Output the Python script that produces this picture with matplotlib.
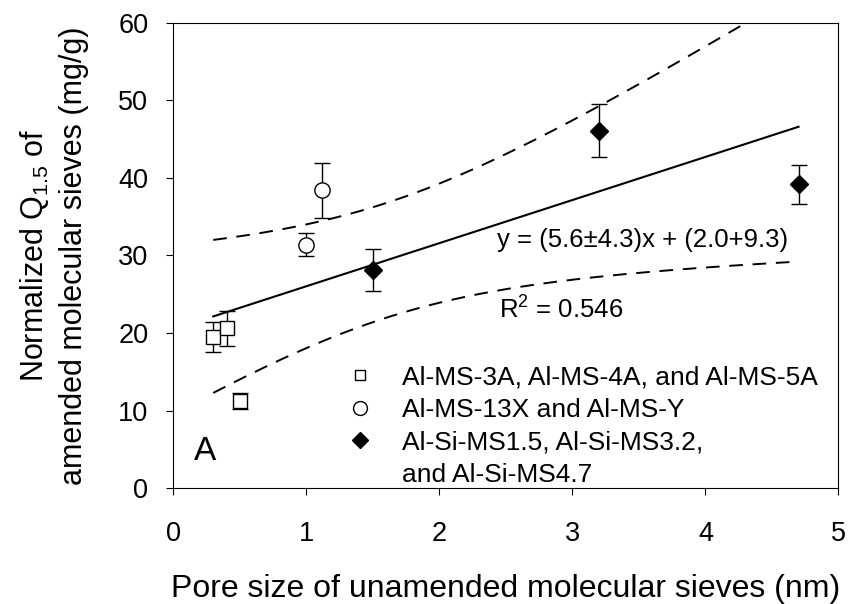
import matplotlib
matplotlib.use('Agg')
import matplotlib.pyplot as plt
from matplotlib.lines import Line2D
import numpy as np

plt.rcParams['font.family'] = ['Liberation Sans', 'DejaVu Sans']
plt.rcParams['mathtext.fontset'] = 'custom'
plt.rcParams['mathtext.rm'] = 'Liberation Sans'
plt.rcParams['mathtext.it'] = 'Liberation Sans'

# pore size (nm), normalized Q1.5 (mg/g) and standard errors
x_ms = [0.3, 0.4, 0.5]
y_ms = [19.5, 20.6, 11.2]
e_ms = [1.9, 2.3, 1.0]

x_xy = [1.0, 1.12]
y_xy = [31.4, 38.4]
e_xy = [1.5, 3.5]

x_si = [1.5, 3.2, 4.7]
y_si = [28.1, 46.1, 39.2]
e_si = [2.7, 3.4, 2.5]

# the last group's label wraps onto a second row without a marker
labels = ['Al-MS-3A, Al-MS-4A, and Al-MS-5A',
          'Al-MS-13X and Al-MS-Y',
          'Al-Si-MS1.5, Al-Si-MS3.2,',
          'and Al-Si-MS4.7']

fig = plt.figure(figsize=(8.56, 6.04), dpi=100)
ax = fig.add_axes([0.2025, 0.192, 0.777, 0.770])

# linear fit with 95% confidence band of the mean
xa = np.array(x_ms + x_xy + x_si)
ya = np.array(y_ms + y_xy + y_si)
n = len(xa)
slope, icpt = np.polyfit(xa, ya, 1)
sxx = np.sum((xa - xa.mean()) ** 2)
s = np.sqrt(np.sum((ya - (slope * xa + icpt)) ** 2) / (n - 2))
t95 = 2.447  # t(0.975, df=6)
xf = np.linspace(xa.min(), xa.max(), 200)
yf = slope * xf + icpt
half = t95 * s * np.sqrt(1.0 / n + (xf - xa.mean()) ** 2 / sxx)

ax.plot(xf, yf, color='black', lw=1.5)
ax.plot(xf, yf + half, color='black', lw=1.4, dashes=(7, 5))
ax.plot(xf, yf - half, color='black', lw=1.4, dashes=(7, 5))

ekw = dict(ecolor='black', elinewidth=1.0, capsize=6, capthick=1.0, linestyle='none')
ax.errorbar(x_ms, y_ms, yerr=e_ms, marker='s', ms=10, mfc='white', mec='black', mew=1.0, **ekw)
ax.errorbar(x_xy, y_xy, yerr=e_xy, marker='o', ms=11, mfc='white', mec='black', mew=1.0, **ekw)
ax.errorbar(x_si, y_si, yerr=e_si, marker='D', ms=9, mfc='black', mec='black', **ekw)

handles = [
    Line2D([], [], ls='none', marker='s', ms=7.5, mfc='white', mec='black'),
    Line2D([], [], ls='none', marker='o', ms=10, mfc='white', mec='black'),
    Line2D([], [], ls='none', marker='D', ms=8.5, mfc='black', mec='black'),
    Line2D([], [], ls='none', marker=None),
]
ax.legend(handles, labels, loc='upper left', bbox_to_anchor=(0.261, 0.264),
          frameon=False, fontsize=19, handlelength=1.0, handletextpad=1.1,
          labelspacing=0.33, borderaxespad=0, borderpad=0)

ax.text(2.43, 32.0, 'y = (5.6±4.3)x + (2.0+9.3)', fontsize=18.5, ha='left', va='center')
ax.text(2.45, 23.0, 'R$^2$ = 0.546', fontsize=18.5, ha='left', va='center')
ax.text(0.24, 4.7, 'A', fontsize=24, ha='center', va='center')

ax.set_xlim(0, 5)
ax.set_ylim(0, 60)
ax.set_xticks(range(0, 6))
ax.set_yticks(range(0, 61, 10))
ax.tick_params(direction='out', length=5, width=0.8, labelsize=19.5)
ax.tick_params(axis='x', pad=19)
ax.tick_params(axis='y', pad=13)
for sp in ax.spines.values():
    sp.set_linewidth(0.8)

ax.set_xlabel('Pore size of unamended molecular sieves (nm)', fontsize=23)
ax.set_ylabel('Normalized Q$_{1.5}$ of\namended molecular sieves (mg/g)', fontsize=22,
              linespacing=1.35)
ax.xaxis.set_label_coords(0.5, -0.185)
ax.yaxis.set_label_coords(-0.18, 0.5)
ax.yaxis.label.set_va('center')

fig.savefig('out.png', dpi=100)
